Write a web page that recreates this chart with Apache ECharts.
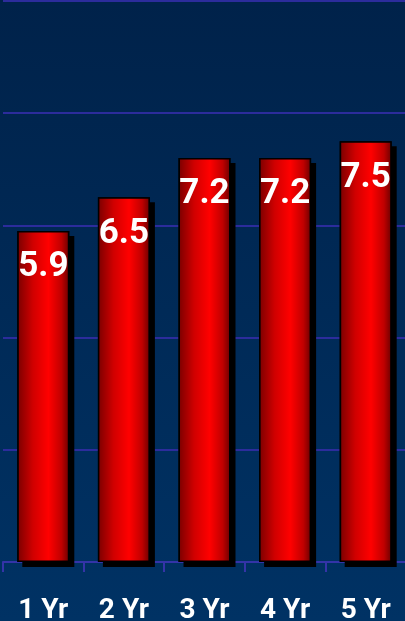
<!DOCTYPE html>
<html>
<head>
<meta charset="utf-8">
<script src="https://cdn.jsdelivr.net/npm/echarts@6/dist/echarts.min.js"></script>
<style>
  html, body { margin: 0; padding: 0; }
  #chart { width: 405px; height: 621px; }
</style>
</head>
<body>
<div id="chart"></div>
<script>
var categories = ['1 Yr', '2 Yr', '3 Yr', '4 Yr', '5 Yr'];
var values = [5.9, 6.5, 7.2, 7.2, 7.5];

var myChart = echarts.init(document.getElementById('chart'));

var narrowFont = '"Liberation Sans Narrow", "Arial Narrow", Roboto, sans-serif';

var barColor = new echarts.graphic.LinearGradient(0, 0, 1, 0, [
    { offset: 0, color: '#7a0000' },
    { offset: 0.3, color: '#d00000' },
    { offset: 0.6, color: '#ff0000' },
    { offset: 0.85, color: '#c00000' },
    { offset: 1, color: '#6a0000' }
]);

var option = {
    backgroundColor: new echarts.graphic.LinearGradient(0, 0, 0, 1, [
        { offset: 0, color: '#00224a' },
        { offset: 1, color: '#003264' }
    ]),
    animation: false,
    grid: { left: 3, right: -1, top: 1, bottom: 59, containLabel: false, outerBoundsMode: 'none' },
    xAxis: {
        type: 'category',
        data: categories,
        axisLine: { lineStyle: { color: '#3434a8', width: 2 } },
        axisTick: { show: true, length: 10, lineStyle: { color: '#3434a8', width: 2 } },
        axisLabel: {
            color: '#ffffff',
            fontFamily: narrowFont,
            fontWeight: 'bold',
            fontSize: 28,
            margin: 35
        }
    },
    yAxis: {
        type: 'value',
        min: 0,
        max: 10,
        interval: 2,
        axisLine: { show: false },
        axisTick: { show: false },
        axisLabel: { show: false },
        splitLine: { lineStyle: { color: '#2c2c9c', width: 2 } }
    },
    series: [{
        // drop shadow only
        type: 'bar',
        data: values,
        barWidth: 52,
        barGap: '-100%',
        silent: true,
        itemStyle: {
            color: '#000000',
            shadowColor: '#000000',
            shadowOffsetX: 5,
            shadowOffsetY: 5,
            shadowBlur: 0
        }
    }, {
        type: 'bar',
        data: values,
        barWidth: 52,
        barGap: '-100%',
        itemStyle: {
            color: barColor,
            borderColor: '#000000',
            borderWidth: 1.5
        },
        label: {
            show: true,
            position: 'insideTop',
            distance: 19,
            color: '#ffffff',
            fontFamily: narrowFont,
            fontWeight: 'bold',
            fontSize: 35
        }
    }]
};
myChart.setOption(option);
</script>
</body>
</html>
